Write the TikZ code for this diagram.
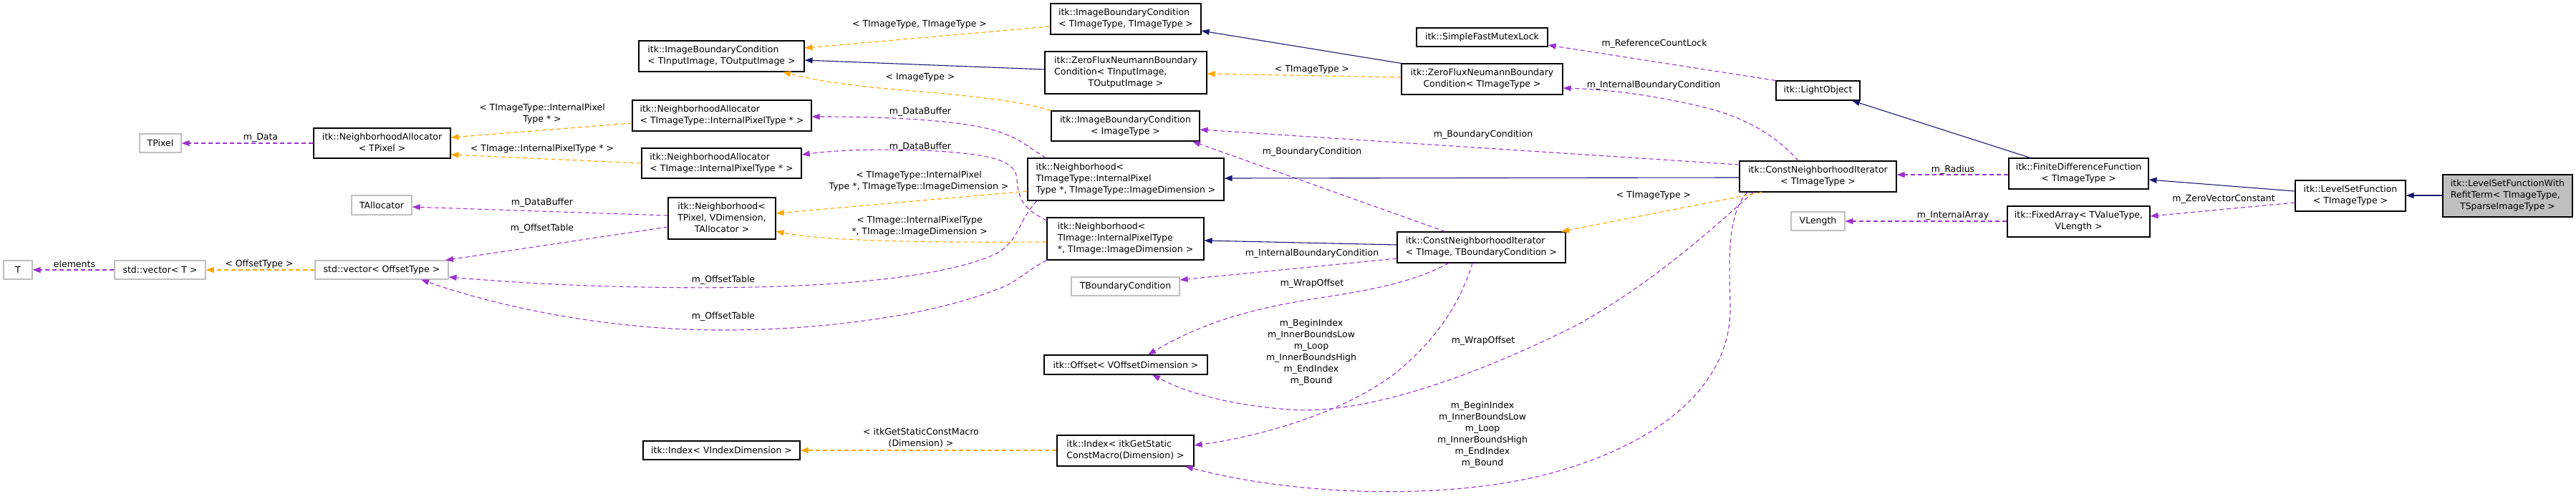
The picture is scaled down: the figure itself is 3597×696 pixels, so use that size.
\documentclass[tikz,border=0pt]{standalone}
\usepackage{fontspec}
\setmainfont{DejaVu Sans}
\usetikzlibrary{arrows.meta}
\definecolor{use}{HTML}{9A32CD}
\definecolor{tpl}{HTML}{FFA500}
\definecolor{inh}{HTML}{191970}
\definecolor{gb}{HTML}{BFBFBF}
\newcommand{\Lb}[2]{\begin{tabular}{@{}l@{}}#1\\\multicolumn{1}{@{}c@{}}{#2}\end{tabular}}
\begin{document}
\begin{tikzpicture}[x=1pt,y=-1pt,font=\fontsize{12.5}{16}\selectfont,
  cls/.style={draw=black,line width=1.1pt,fill=white,inner sep=0pt,rectangle},
  ext/.style={cls,draw=gb},
  root/.style={cls,fill=gb},
  wh/.style 2 args={minimum width=#1pt,minimum height=#2pt},
  usee/.style={draw=use,line width=1.1pt,dash pattern=on 6pt off 4pt,-{Triangle[length=11pt,width=8pt]}},
  tple/.style={usee,draw=tpl},
  inhe/.style={draw=inh,line width=1.1pt,-{Triangle[length=11pt,width=8pt]}},
  lbl/.style={inner sep=0pt,align=center}]
\fill[white] (0,0) rectangle (3597,696);
\useasboundingbox (0,0) rectangle (3597,696);

% nodes
\node[ext,wh={40}{26}] (T) at (25,377) {T};
\node[ext,wh={127}{26}] (vecT) at (223.5,377) {std::vector< T >};
\node[ext,wh={186}{26}] (vecOff) at (533,377) {std::vector< OffsetType >};
\node[ext,wh={58}{26}] (TPixel) at (224,200) {TPixel};
\node[cls,wh={191}{42}] (naPix) at (533.5,200) {\Lb{itk::NeighborhoodAllocator}{< TPixel >}};
\node[ext,wh={84}{27}] (TAlloc) at (533,286.5) {TAllocator};
\node[cls,wh={231}{43}] (ibcIO) at (1007.5,78.5) {\Lb{itk::ImageBoundaryCondition}{< TInputImage, TOutputImage >}};
\node[cls,wh={250}{43}] (naIT) at (1008,161.5) {\Lb{itk::NeighborhoodAllocator}{< TImageType::InternalPixelType * >}};
\node[cls,wh={223}{42}] (naI) at (1007.5,228) {\Lb{itk::NeighborhoodAllocator}{< TImage::InternalPixelType * >}};
\node[cls,wh={150}{58}] (nbP) at (1008,305) {\Lb{itk::Neighborhood<\\TPixel, VDimension,}{TAllocator >}};
\node[cls,wh={219}{26}] (idxV) at (1007.5,629) {itk::Index< VIndexDimension >};
\node[cls,wh={210}{43}] (ibcTT) at (1572,26.5) {\Lb{itk::ImageBoundaryCondition}{< TImageType, TImageType >}};
\node[cls,wh={226}{59}] (zfnIO) at (1572,101.5) {\Lb{itk::ZeroFluxNeumannBoundary\\Condition< TInputImage,}{TOutputImage >}};
\node[cls,wh={207}{42}] (ibcI) at (1571.5,176) {\Lb{itk::ImageBoundaryCondition}{< ImageType >}};
\node[cls,wh={274}{59}] (nbIT) at (1572,250.5) {\Lb{itk::Neighborhood<\\TImageType::InternalPixel}{Type *, TImageType::ImageDimension >}};
\node[cls,wh={219}{59}] (nbI) at (1571.5,333.5) {\Lb{itk::Neighborhood<\\TImage::InternalPixelType}{*, TImage::ImageDimension >}};
\node[ext,wh={151}{26}] (tbc) at (1571.5,400) {TBoundaryCondition};
\node[cls,wh={228}{27}] (off) at (1572,509.5) {itk::Offset< VOffsetDimension >};
\node[cls,wh={191}{43}] (idxM) at (1571.5,629.5) {\Lb{itk::Index< itkGetStatic}{ConstMacro(Dimension) >}};
\node[cls,wh={183}{26}] (sfml) at (2069.5,52) {itk::SimpleFastMutexLock};
\node[cls,wh={225}{43}] (zfnT) at (2069.5,110.5) {\Lb{itk::ZeroFluxNeumannBoundary}{Condition< TImageType >}};
\node[cls,wh={235}{43}] (cniTB) at (2068.5,345.5) {\Lb{itk::ConstNeighborhoodIterator}{< TImage, TBoundaryCondition >}};
\node[cls,wh={117}{27}] (lo) at (2538.5,126.5) {itk::LightObject};
\node[cls,wh={219}{43}] (cniT) at (2538.5,246.5) {\Lb{itk::ConstNeighborhoodIterator}{< TImageType >}};
\node[ext,wh={75}{26}] (vlen) at (2538.5,309) {VLength};
\node[cls,wh={195}{43}] (fdf) at (2902.5,242.5) {\Lb{itk::FiniteDifferenceFunction}{< TImageType >}};
\node[cls,wh={199}{43}] (fa) at (2902.5,309.5) {\Lb{itk::FixedArray< TValueType,}{VLength >}};
\node[cls,wh={154}{43}] (lsf) at (3282,273.5) {\Lb{itk::LevelSetFunction}{< TImageType >}};
\node[root,wh={181}{59}] (lsfr) at (3501.5,273.5) {\Lb{itk::LevelSetFunctionWith\\RefitTerm< TImageType,}{TSparseImageType >}};

% usage edges
\draw[usee] (vecT.west) -- (T.east);
\draw[usee] (naPix.west) -- (TPixel.east);
\draw[usee] (nbP.west |- 0,301) -- (TAlloc.east |- 0,289);
\draw[usee] (nbP.west |- 0,317) -- (vecOff.north -| 622,0);
\draw[usee] (nbIT.south -| 1448,0) .. controls (1420,310) and (1425,335) .. (1390,355) .. controls (1300,395) and (1100,405) .. (900,401) .. controls (780,399) and (700,393) .. (vecOff.east |- 0,387);
\draw[usee] (nbI.south west) .. controls (1430,380) and (1420,395) .. (1390,405) .. controls (1300,440) and (1150,462) .. (1000,461) .. controls (850,460) and (700,430) .. (vecOff.south -| 588,0);
\draw[usee] (nbIT.north -| 1460,0) .. controls (1435,205) and (1425,195) .. (1405,188) .. controls (1370,172) and (1280,163) .. (naIT.east |- 0,163);
\draw[usee] (nbI.west |- 0,308) .. controls (1430,292) and (1422,280) .. (1420,250) .. controls (1418,225) and (1390,215) .. (1290,210) .. controls (1200,207) and (1150,212) .. (naI.east |- 0,216);
\draw[usee] (cniTB.north -| 2018,0) -- (ibcI.south -| 1665,0);
\draw[usee] (cniT.west |- 0,230) -- (ibcI.east |- 0,181);
\draw[usee] (cniT.north -| 2511,0) .. controls (2480,190) and (2440,165) .. (2380,150) .. controls (2320,135) and (2250,125) .. (zfnT.east |- 0,123);
\draw[usee] (lo.north west) -- (sfml.east |- 0,63);
\draw[usee] (cniTB.west |- 0,361) -- (tbc.east |- 0,391);
\draw[usee] (cniTB.south -| 2023,0) .. controls (1990,385) and (1950,400) .. (1850,415) .. controls (1750,430) and (1680,450) .. (off.north -| 1603,0);
\draw[usee] (cniT.south -| 2448,0) .. controls (2380,330) and (2300,400) .. (2200,455) .. controls (2050,530) and (1900,580) .. (1800,572) .. controls (1720,566) and (1660,550) .. (off.south -| 1609,0);
\draw[usee] (cniTB.south -| 2056,0) .. controls (2040,420) and (2010,470) .. (1950,520) .. controls (1880,575) and (1760,610) .. (idxM.east |- 0,622);
\draw[usee] (cniT.south -| 2440,0) .. controls (2410,300) and (2415,370) .. (2416,430) .. controls (2417,530) and (2330,620) .. (2150,665) .. controls (2000,700) and (1800,690) .. (idxM.south -| 1655,0);
\draw[usee] (fdf.west |- 0,244) -- (cniT.east |- 0,244);
\draw[usee] (fa.west |- 0,309) -- (vlen.east |- 0,309);
\draw[usee] (lsf.west |- 0,283) -- (fa.east |- 0,302);

% template edges
\draw[tple] (vecOff.west) -- (vecT.east);
\draw[tple] (naIT.west |- 0,172) -- (naPix.east |- 0,192);
\draw[tple] (naI.west |- 0,228) -- (naPix.east |- 0,216);
\draw[tple] (nbIT.west |- 0,267) -- (nbP.east |- 0,298);
\draw[tple] (nbI.west |- 0,338) .. controls (1300,339) and (1150,337) .. (nbP.east |- 0,323);
\draw[tple] (ibcTT.west |- 0,37) -- (ibcIO.east |- 0,67);
\draw[tple] (ibcI.north west) .. controls (1440,145) and (1380,135) .. (1250,125) .. controls (1170,118) and (1130,110) .. (ibcIO.south -| 1093,0);
\draw[tple] (zfnT.west |- 0,108) -- (zfnIO.east |- 0,103);
\draw[tple] (cniT.south -| 2460,0) -- (cniTB.north -| 2180,0);
\draw[tple] (idxM.west |- 0,629) -- (idxV.east |- 0,629);

% inheritance edges
\draw[inhe] (zfnIO.west |- 0,97) -- (ibcIO.east |- 0,84);
\draw[inhe] (zfnT.north west) -- (ibcTT.east |- 0,43);
\draw[inhe] (cniT.west |- 0,248) -- (nbIT.east |- 0,249);
\draw[inhe] (cniTB.west |- 0,342) -- (nbI.east |- 0,336);
\draw[inhe] (fdf.north -| 2835,0) -- (lo.south -| 2586,0);
\draw[inhe] (lsf.west |- 0,267) -- (fdf.east |- 0,251);
\draw[inhe] (lsfr.west |- 0,273) -- (lsf.east |- 0,273);

% labels
\node[lbl] at (104,369) {elements};
\node[lbl] at (364,192) {m\_Data};
\node[lbl] at (362,369) {< OffsetType >};
\node[lbl] at (757,159) {< TImageType::InternalPixel\\Type * >};
\node[lbl] at (757,208) {< TImage::InternalPixelType * >};
\node[lbl] at (757,283) {m\_DataBuffer};
\node[lbl] at (757,319) {m\_OffsetTable};
\node[lbl] at (1284,34) {< TImageType, TImageType >};
\node[lbl] at (1285,108) {< ImageType >};
\node[lbl] at (1285,156) {m\_DataBuffer};
\node[lbl] at (1285,205) {m\_DataBuffer};
\node[lbl] at (1283,253) {< TImageType::InternalPixel\\Type *, TImageType::ImageDimension >};
\node[lbl] at (1284,316) {< TImage::InternalPixelType\\*, TImage::ImageDimension >};
\node[lbl] at (1010,391) {m\_OffsetTable};
\node[lbl] at (1010,442) {m\_OffsetTable};
\node[lbl] at (1286,612) {< itkGetStaticConstMacro\\(Dimension) >};
\node[lbl] at (1832,97) {< TImageType >};
\node[lbl] at (2071,188) {m\_BoundaryCondition};
\node[lbl] at (1832,212) {m\_BoundaryCondition};
\node[lbl] at (1832,354) {m\_InternalBoundaryCondition};
\node[lbl] at (1832,396) {m\_WrapOffset};
\node[lbl] at (1831,492) {m\_BeginIndex\\m\_InnerBoundsLow\\m\_Loop\\m\_InnerBoundsHigh\\m\_EndIndex\\m\_Bound};
\node[lbl] at (2071,476) {m\_WrapOffset};
\node[lbl] at (2070,607) {m\_BeginIndex\\m\_InnerBoundsLow\\m\_Loop\\m\_InnerBoundsHigh\\m\_EndIndex\\m\_Bound};
\node[lbl] at (2310,61) {m\_ReferenceCountLock};
\node[lbl] at (2309,119) {m\_InternalBoundaryCondition};
\node[lbl] at (2309,273) {< TImageType >};
\node[lbl] at (2727,237) {m\_Radius};
\node[lbl] at (2727,301) {m\_InternalArray};
\node[lbl] at (3105,278) {m\_ZeroVectorConstant};
\end{tikzpicture}
\end{document}
